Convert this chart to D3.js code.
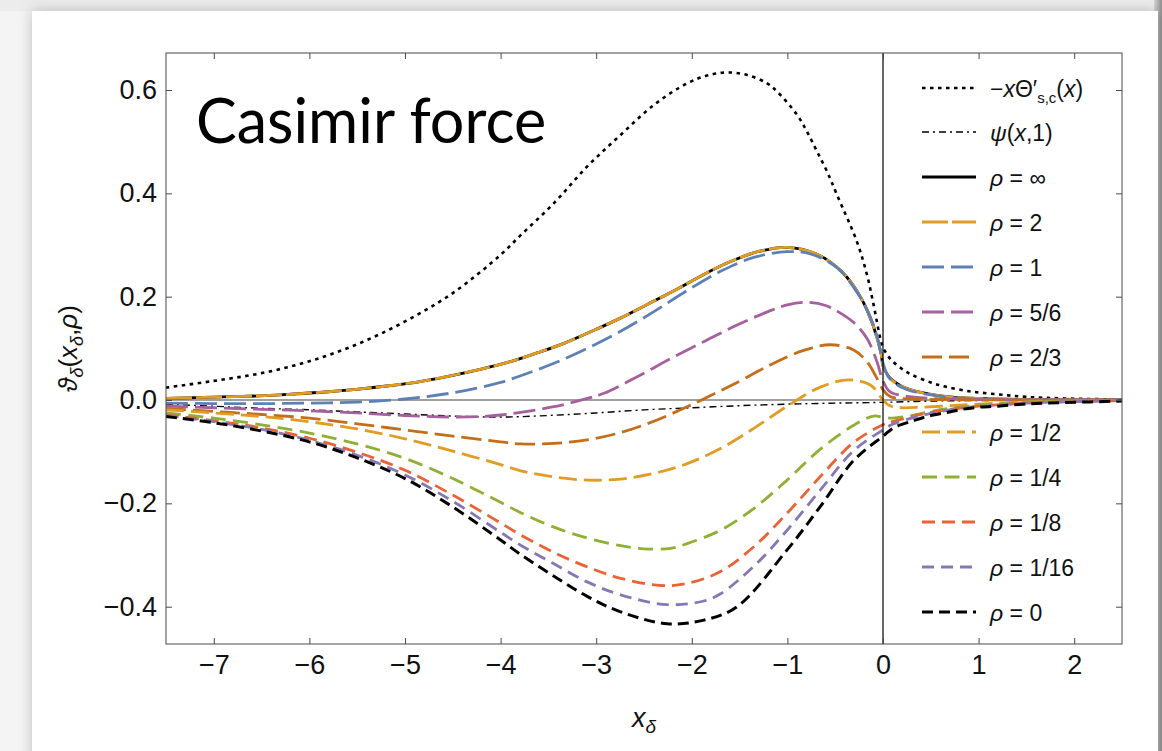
<!DOCTYPE html>
<html>
<head>
<meta charset="utf-8">
<script src="https://cdn.jsdelivr.net/npm/d3@7"></script>
<style>
  html, body { margin: 0; padding: 0; background: #ececec; }
  svg { display: block; }
</style>
</head>
<body>
<svg id="chart" width="1162" height="751"></svg>
<script>
// ---- tick values ----------------------------------------------------------
const xTicks = [-7, -6, -5, -4, -3, -2, -1, 0, 1, 2];
const yTicks = [-0.4, -0.2, 0.0, 0.2, 0.4, 0.6];

// ---- curves: [x_delta, value] ----------------------------------------------
const thetaPrime = [[-7.5,0.024],[-7,0.037],[-6.5,0.052],[-6,0.075],[-5.5,0.108],[-5,0.152],[-4.5,0.207],[-4,0.281],
  [-3.79,0.319],[-3.442,0.381],[-3.094,0.452],[-2.745,0.513],[-2.397,0.571],[-2.048,0.613],[-1.839,0.628],
  [-1.63,0.634],[-1.421,0.629],[-1.212,0.613],[-1.108,0.597],[-0.899,0.552],[-0.794,0.519],[-0.69,0.481],
  [-0.585,0.442],[-0.481,0.397],[-0.272,0.306],[-0.167,0.242],[-0.098,0.184],[-0.028,0.119],[0,0.102],
  [0.05,0.086],[0.1,0.075],[0.2,0.060],[0.3,0.049],[0.5,0.034],[0.65,0.026],[0.9,0.017],[1.2,0.011],
  [1.5,0.006],[1.9,0.003],[2.5,0.001]];

const psi1 = [[-7.5,-0.008],[-7,-0.012],[-6.5,-0.016],[-6,-0.019],[-5.5,-0.023],[-5,-0.027],[-4.5,-0.031],[-4,-0.033],
  [-3.5,-0.030],[-3,-0.025],[-2.5,-0.019],[-2,-0.015],[-1.5,-0.011],[-1,-0.008],[-0.5,-0.006],[0,-0.0045],
  [0.5,-0.002],[1,-0.001],[1.5,-0.0004],[2.5,0]];

const rhoInf = [[-7.5,0.003],[-7.106,0.0052],[-6.792,0.0065],[-6.468,0.0084],[-6.155,0.0116],[-5.831,0.0155],[-5.51,0.0206],
  [-5.19,0.0271],[-4.87,0.0348],[-4.563,0.0452],[-4.25,0.058],[-3.936,0.0722],[-3.633,0.0903],[-3.337,0.1097],
  [-3.041,0.1335],[-2.752,0.158],[-2.466,0.185],[-2.181,0.212],[-1.899,0.2406],[-1.613,0.2665],[-1.31,0.287],
  [-1.003,0.2955],[-0.69,0.282],[-0.43,0.248],[-0.237,0.2],[-0.105,0.145],[-0.02,0.09],[0,0.066],[0.05,0.048],
  [0.1,0.038],[0.2,0.026],[0.3,0.019],[0.5,0.011],[0.7,0.006],[1,0.003],[1.5,0.001],[2,0.0003],[2.5,0]];

const rho2 = [[-7.5,0.003],[-7.106,0.0052],[-6.792,0.0065],[-6.468,0.0084],[-6.155,0.0116],[-5.831,0.0155],[-5.51,0.0206],
  [-5.19,0.0271],[-4.87,0.0348],[-4.563,0.0452],[-4.25,0.058],[-3.936,0.0722],[-3.633,0.0903],[-3.337,0.1097],
  [-3.041,0.1335],[-2.752,0.158],[-2.466,0.185],[-2.181,0.212],[-1.899,0.2406],[-1.613,0.2665],[-1.31,0.287],
  [-1.003,0.2955],[-0.69,0.282],[-0.43,0.248],[-0.237,0.2],[-0.105,0.145],[-0.02,0.089],[0,0.065],[0.05,0.047],
  [0.1,0.037],[0.2,0.026],[0.3,0.019],[0.5,0.011],[0.7,0.006],[1,0.003],[1.5,0.001],[2,0.0003],[2.5,0]];

const rho1 = [[-7.5,-0.006],[-7,-0.007],[-6.5,-0.007],[-6,-0.006],[-5.5,-0.004],[-5,0.002],[-4.5,0.014],[-4,0.034],
  [-3.79,0.047],[-3.442,0.071],[-3.094,0.100],[-2.745,0.133],[-2.397,0.171],[-2.048,0.212],[-1.7,0.249],
  [-1.352,0.276],[-1.003,0.287],[-0.76,0.283],[-0.48,0.256],[-0.307,0.218],[-0.167,0.175],[-0.063,0.124],
  [0,0.072],[0.05,0.047],[0.1,0.036],[0.2,0.024],[0.3,0.017],[0.5,0.010],[0.7,0.005],[1,0.002],[1.5,0.0008],[2.5,0]];

const rho56 = [[-7.5,-0.012],[-7,-0.015],[-6.5,-0.018],[-6,-0.021],[-5.5,-0.025],[-5,-0.030],[-4.5,-0.033],[-4.2,-0.032],
  [-4,-0.029],[-3.79,-0.024],[-3.442,-0.013],[-3.094,0.003],[-2.919,0.013],[-2.571,0.045],[-2.223,0.080],
  [-1.874,0.113],[-1.526,0.145],[-1.178,0.173],[-1.0,0.184],[-0.795,0.189],[-0.6,0.183],[-0.48,0.172],[-0.307,0.150],
  [-0.167,0.119],[-0.063,0.074],[-0.01,0.042],[0.05,0.020],[0.1,0.013],[0.2,0.009],[0.3,0.006],[0.5,0.003],[1,0.001],[2.5,0]];

const rho23 = [[-7.5,-0.016],[-7,-0.022],[-6.5,-0.028],[-6,-0.035],[-5.5,-0.046],[-5,-0.058],[-4.5,-0.070],[-4,-0.081],
  [-3.79,-0.085],[-3.442,-0.084],[-3.094,-0.077],[-2.745,-0.063],[-2.397,-0.041],[-2.048,-0.013],[-1.7,0.018],
  [-1.526,0.034],[-1.178,0.068],[-0.83,0.096],[-0.551,0.107],[-0.307,0.097],[-0.167,0.074],[-0.063,0.042],
  [0,0.020],[0.05,0.010],[0.1,0.005],[0.3,0.002],[1,0.0003],[2.5,0]];

const rho12 = [[-7.5,-0.019],[-7,-0.025],[-6.5,-0.032],[-6,-0.042],[-5.5,-0.056],[-5,-0.075],[-4.5,-0.099],[-4,-0.125],
  [-3.79,-0.137],[-3.442,-0.149],[-3.094,-0.155],[-2.745,-0.153],[-2.397,-0.142],[-2.048,-0.123],[-1.7,-0.094],
  [-1.352,-0.055],[-1.003,-0.012],[-0.655,0.025],[-0.359,0.039],[-0.132,0.029],[0,0.0],[0.05,-0.009],[0.1,-0.013],
  [0.2,-0.015],[0.4,-0.014],[0.7,-0.011],[1,-0.008],[1.5,-0.004],[2,-0.002],[2.5,-0.001]];

const rho14 = [[-7.5,-0.025],[-7,-0.035],[-6.5,-0.048],[-6,-0.064],[-5.5,-0.085],[-5,-0.113],[-4.5,-0.152],[-4,-0.198],
  [-3.79,-0.218],[-3.442,-0.246],[-3.094,-0.267],[-2.745,-0.282],[-2.501,-0.288],[-2.223,-0.287],[-2.048,-0.278],
  [-1.7,-0.252],[-1.352,-0.210],[-1.003,-0.155],[-0.655,-0.095],[-0.307,-0.049],[-0.098,-0.031],[0,-0.0335],
  [0.1,-0.035],[0.3,-0.030],[0.5,-0.022],[0.7,-0.016],[1,-0.010],[1.5,-0.004],[2,-0.002],[2.5,-0.001]];

const rho18 = [[-7.5,-0.029],[-7,-0.040],[-6.5,-0.054],[-6,-0.074],[-5.5,-0.101],[-5,-0.136],[-4.5,-0.184],[-4,-0.238],
  [-3.79,-0.261],[-3.442,-0.295],[-3.094,-0.323],[-2.745,-0.345],[-2.327,-0.359],[-2.048,-0.355],[-1.7,-0.332],
  [-1.352,-0.284],[-1.003,-0.219],[-0.655,-0.148],[-0.307,-0.082],[0,-0.048],[0.1,-0.042],[0.3,-0.032],
  [0.5,-0.024],[0.7,-0.018],[1,-0.012],[1.5,-0.006],[2,-0.003],[2.5,-0.001]];

const rho116 = [[-7.5,-0.030],[-7,-0.042],[-6.5,-0.057],[-6,-0.078],[-5.5,-0.107],[-5,-0.145],[-4.5,-0.196],[-4,-0.256],
  [-3.79,-0.281],[-3.442,-0.317],[-3.094,-0.352],[-2.745,-0.377],[-2.258,-0.396],[-1.874,-0.389],[-1.7,-0.375],
  [-1.352,-0.322],[-1.003,-0.252],[-0.655,-0.174],[-0.307,-0.098],[0,-0.058],[0.1,-0.047],[0.3,-0.035],
  [0.5,-0.026],[0.7,-0.019],[1,-0.013],[1.5,-0.006],[2,-0.003],[2.5,-0.001]];

const rho0 = [[-7.5,-0.032],[-7,-0.044],[-6.5,-0.060],[-6,-0.081],[-5.5,-0.112],[-5,-0.152],[-4.5,-0.207],[-4,-0.271],
  [-3.79,-0.299],[-3.442,-0.341],[-3.094,-0.380],[-2.745,-0.410],[-2.258,-0.433],[-1.874,-0.426],[-1.526,-0.400],
  [-1.003,-0.290],[-0.655,-0.206],[-0.307,-0.117],[0,-0.070],[0.12,-0.053],[0.32,-0.040],[0.48,-0.031],
  [0.67,-0.024],[0.83,-0.018],[1,-0.014],[1.19,-0.012],[1.55,-0.007],[1.9,-0.005],[2.5,-0.002]];

// ---- styles, in drawing order ---------------------------------------------
const series = [
  { data: thetaPrime, color: "#000000", width: 2.6, dash: "3.5,4.5" },
  { data: psi1,       color: "#000000", width: 1.4, dash: "7,4,2,4" },
  { data: rhoInf,     color: "#000000", width: 2.8, dash: null },
  { data: rho2,       color: "#E19C24", width: 2.8, dash: "26,4" },
  { data: rho1,       color: "#5E81B5", width: 2.8, dash: "22,7" },
  { data: rho56,      color: "#A5609D", width: 2.8, dash: "22,7" },
  { data: rho23,      color: "#C56E1A", width: 2.8, dash: "20,7" },
  { data: rho12,      color: "#E19C24", width: 2.8, dash: "18,7" },
  { data: rho14,      color: "#8FB032", width: 2.8, dash: "15,7.5" },
  { data: rho18,      color: "#EB6235", width: 2.8, dash: "13,7" },
  { data: rho116,     color: "#8778B3", width: 2.8, dash: "12,7" },
  { data: rho0,       color: "#000000", width: 3.0, dash: "11,6" }
];

// ---- layout ---------------------------------------------------------------
const W = 1162, H = 751;
const plot = { left: 166, top: 53, right: 1122, bottom: 644 };

const svg = d3.select("#chart");
const defs = svg.append("defs");

const shadow = defs.append("filter").attr("id", "cardShadow")
  .attr("x", "-5%").attr("y", "-5%").attr("width", "110%").attr("height", "110%");
shadow.append("feDropShadow").attr("dx", 0).attr("dy", 0)
  .attr("stdDeviation", 7).attr("flood-color", "#000").attr("flood-opacity", 0.22);

const edge = defs.append("linearGradient").attr("id", "rightEdge");
edge.append("stop").attr("offset", "0%").attr("stop-color", "#d6d6d6");
edge.append("stop").attr("offset", "100%").attr("stop-color", "#8e8e8e");

defs.append("clipPath").attr("id", "plotClip")
  .append("rect").attr("x", plot.left).attr("y", plot.top)
  .attr("width", plot.right - plot.left).attr("height", plot.bottom - plot.top);

// page and card
svg.append("rect").attr("width", W).attr("height", H).attr("fill", "#ececec");
svg.append("rect").attr("x", 0).attr("y", 11).attr("width", 32).attr("height", H).attr("fill", "#f4f4f4");
svg.append("rect").attr("x", 1154).attr("y", 0).attr("width", 8).attr("height", H).attr("fill", "url(#rightEdge)");
svg.append("rect").attr("x", 32).attr("y", 11).attr("width", 1126).attr("height", 820)
  .attr("fill", "#ffffff").attr("filter", "url(#cardShadow)");

// scales
const x = d3.scaleLinear().domain([-7.5, 2.5]).range([plot.left, plot.right]);
const y = d3.scaleLinear().domain([-0.4722, 0.6716]).range([plot.bottom, plot.top]);

// zero line (horizontal)
svg.append("line")
  .attr("x1", plot.left).attr("x2", plot.right)
  .attr("y1", y(0)).attr("y2", y(0))
  .attr("stroke", "#808080").attr("stroke-width", 1.5);

// curves
const line = d3.line().x(d => x(d[0])).y(d => y(d[1])).curve(d3.curveCatmullRom.alpha(0.5));
const curves = svg.append("g").attr("clip-path", "url(#plotClip)");
series.forEach(s => {
  curves.append("path")
    .attr("d", line(s.data))
    .attr("fill", "none")
    .attr("stroke", s.color)
    .attr("stroke-width", s.width)
    .attr("stroke-dasharray", s.dash)
    .attr("stroke-linecap", "butt")
    .attr("stroke-linejoin", "round");
});

// zero line (vertical)
svg.append("line")
  .attr("x1", x(0)).attr("x2", x(0))
  .attr("y1", plot.top).attr("y2", plot.bottom)
  .attr("stroke", "#000").attr("stroke-width", 1.2);

// frame
svg.append("rect")
  .attr("x", plot.left).attr("y", plot.top)
  .attr("width", plot.right - plot.left).attr("height", plot.bottom - plot.top)
  .attr("fill", "none").attr("stroke", "#4a4a4a").attr("stroke-width", 1);

const tickFont = "'Liberation Sans', Arial, Helvetica, sans-serif";
const fmtY = d3.format(".1f");

function styleAxis(g) {
  g.select(".domain").remove();
  g.selectAll(".tick line").attr("stroke", "#4a4a4a").attr("stroke-width", 1);
  g.selectAll(".tick text").attr("fill", "#111").style("font-family", tickFont).style("font-size", "27px");
}

svg.append("g").attr("transform", `translate(0,${plot.bottom})`)
  .call(d3.axisBottom(x).tickValues(xTicks).tickSizeInner(-6).tickSizeOuter(0).tickPadding(11)
    .tickFormat(d3.format("d")))
  .call(styleAxis);
svg.append("g").attr("transform", `translate(0,${plot.top})`)
  .call(d3.axisTop(x).tickValues(xTicks).tickSizeInner(-6).tickSizeOuter(0).tickFormat(""))
  .call(styleAxis);
svg.append("g").attr("transform", `translate(${plot.left},0)`)
  .call(d3.axisLeft(y).tickValues(yTicks).tickSizeInner(-6).tickSizeOuter(0).tickPadding(9).tickFormat(fmtY))
  .call(styleAxis);
svg.append("g").attr("transform", `translate(${plot.right},0)`)
  .call(d3.axisRight(y).tickValues(yTicks).tickSizeInner(-6).tickSizeOuter(0).tickFormat(""))
  .call(styleAxis);

// axis titles
const xTitle = svg.append("text")
  .attr("x", (plot.left + plot.right) / 2).attr("y", 727)
  .attr("text-anchor", "middle")
  .style("font-family", tickFont).style("font-size", "27px").attr("fill", "#111");
xTitle.append("tspan").attr("font-style", "italic").text("x");
xTitle.append("tspan").attr("font-style", "italic").attr("font-size", "19px").attr("dy", 6).text("δ");

const yTitle = svg.append("text")
  .attr("transform", `translate(77,${(plot.top + plot.bottom) / 2}) rotate(-90)`)
  .attr("text-anchor", "middle")
  .style("font-family", tickFont).style("font-size", "26px").attr("fill", "#111");
yTitle.append("tspan").attr("font-style", "italic").text("ϑ");
yTitle.append("tspan").attr("font-style", "italic").attr("font-size", "18px").attr("dy", 6).text("δ");
yTitle.append("tspan").attr("dy", -6).text("(");
yTitle.append("tspan").attr("font-style", "italic").text("x");
yTitle.append("tspan").attr("font-style", "italic").attr("font-size", "18px").attr("dy", 6).text("δ");
yTitle.append("tspan").attr("dy", -6).text(",");
yTitle.append("tspan").attr("font-style", "italic").text("ρ");
yTitle.append("tspan").text(")");

// title
svg.append("text")
  .attr("x", 196).attr("y", 143)
  .style("font-family", "Lato, 'Open Sans', sans-serif").style("font-size", "61px")
  .attr("fill", "#000").text("Casimir force");

// ---- legend -----------------------------------------------------------------
const legendRows = [88, 132, 177, 222, 267, 312, 357, 432, 477, 522, 567, 612];
const legendLabels = [
  [["−", null], ["x", "italic"], ["Θ′", null], ["s,c", "sub"], ["(", "base"], ["x", "italic"], [")", null]],
  [["ψ", "italic"], ["(", null], ["x", "italic"], [",1)", null]],
  [["ρ", "italic"], [" = ∞", null]],
  [["ρ", "italic"], [" = 2", null]],
  [["ρ", "italic"], [" = 1", null]],
  [["ρ", "italic"], [" = 5/6", null]],
  [["ρ", "italic"], [" = 2/3", null]],
  [["ρ", "italic"], [" = 1/2", null]],
  [["ρ", "italic"], [" = 1/4", null]],
  [["ρ", "italic"], [" = 1/8", null]],
  [["ρ", "italic"], [" = 1/16", null]],
  [["ρ", "italic"], [" = 0", null]]
];

const legend = svg.append("g");
series.forEach((s, i) => {
  const ly = legendRows[i];
  legend.append("line")
    .attr("x1", 922).attr("x2", 976).attr("y1", ly).attr("y2", ly)
    .attr("stroke", s.color).attr("stroke-width", s.width)
    .attr("stroke-dasharray", s.dash);
  const t = legend.append("text")
    .attr("x", 990).attr("y", ly + 8.5)
    .style("font-family", tickFont).style("font-size", "23px").attr("fill", "#111");
  legendLabels[i].forEach(([str, kind]) => {
    const sp = t.append("tspan").text(str);
    if (kind === "italic") sp.attr("font-style", "italic");
    if (kind === "sub") sp.attr("font-size", "15px").attr("dy", 6);
    if (kind === "base") sp.attr("dy", -6);
  });
});
</script>
</body>
</html>
